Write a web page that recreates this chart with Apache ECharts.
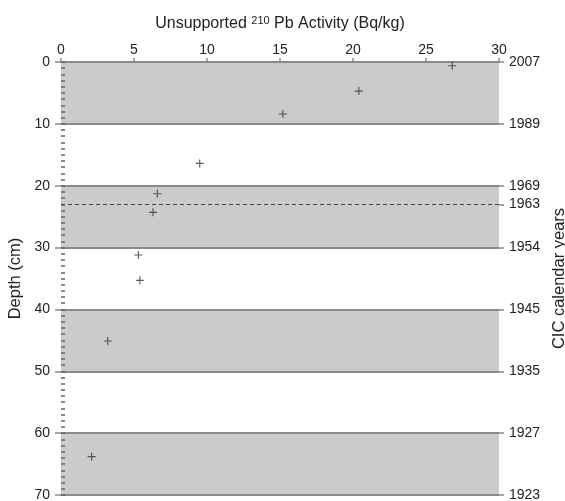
<!DOCTYPE html>
<html>
<head>
<meta charset="utf-8">
<script src="https://cdn.jsdelivr.net/npm/echarts@6/dist/echarts.min.js"></script>
<style>
html, body { margin: 0; padding: 0; background: #fff; }
#main { width: 565px; height: 501px; }
</style>
</head>
<body>
<div id="main"></div>
<script>
// unsupported 210Pb activity vs depth
var activity = [26.8, 20.4, 15.2, 9.5, 6.6, 6.3, 5.3, 5.4, 3.2, 2.1];
var depth = [0.6, 4.7, 8.4, 16.4, 21.3, 24.3, 31.2, 35.3, 45.1, 63.8];

// CIC age model: depth (cm) -> calendar year
var yearDepths = [0, 10, 20, 23, 30, 40, 50, 60, 70];
var yearLabels = ['2007', '1989', '1969', '1963', '1954', '1945', '1935', '1927', '1923'];
var markerDepth = 23; // 1963 peak

var points = [];
for (var i = 0; i < activity.length; i++) {
    points.push([activity[i], depth[i]]);
}

var font = 'Liberation Sans, Arial, sans-serif';
var lineGrey = '#8a8a8a';

var myChart = echarts.init(document.getElementById('main'));
var option = {
    animation : false,
    textStyle : { fontFamily : font },
    grid : { left : 61, right : 66, top : 62, bottom : 6, outerBoundsMode : 'none' },
    xAxis : {
	type : 'value',
	position : 'top',
	min : 0,
	max : 30,
	interval : 5,
	name : 'Unsupported {sup|210} Pb Activity (Bq/kg)',
	nameLocation : 'middle',
	nameGap : 29,
	nameTextStyle : {
	    fontSize : 16,
	    color : '#222',
	    fontFamily : font,
	    rich : {
		sup : { fontSize : 11, color : '#222', fontFamily : font, padding : [ 0, 0, 7, 0 ] }
	    }
	},
	axisLine : { lineStyle : { color : lineGrey, width : 2 } },
	axisTick : { length : 4, lineStyle : { color : lineGrey, width : 1.5 } },
	axisLabel : { fontSize : 14, color : '#222', margin : 5, fontFamily : font },
	splitLine : { show : false }
    },
    yAxis : [ {
	type : 'value',
	position : 'left',
	inverse : true,
	min : 0,
	max : 70,
	interval : 10,
	name : 'Depth (cm)',
	nameLocation : 'middle',
	nameGap : 35,
	nameTextStyle : { fontSize : 16.5, color : '#222', fontFamily : font },
	axisLine : { show : false },
	axisTick : { length : 6, lineStyle : { color : lineGrey, width : 1.5 } },
	axisLabel : { fontSize : 14, color : '#222', margin : 11, fontFamily : font },
	splitLine : { show : true, lineStyle : { color : lineGrey, width : 2 } },
	splitArea : { show : true, areaStyle : { color : [ '#cbcbcb', 'rgba(255,255,255,0)' ] } }
    }, {
	type : 'value',
	position : 'right',
	inverse : true,
	min : 0,
	max : 70,
	name : 'CIC calendar years',
	nameLocation : 'middle',
	nameGap : 52,
	nameTextStyle : { fontSize : 16.5, color : '#222', fontFamily : font },
	axisLine : { show : false },
	axisTick : {
	    length : 5,
	    customValues : yearDepths,
	    lineStyle : { color : lineGrey, width : 1.5 }
	},
	axisLabel : {
	    fontSize : 14,
	    color : '#222',
	    margin : 10,
	    fontFamily : font,
	    customValues : yearDepths,
	    formatter : function(v) {
		var k = yearDepths.indexOf(v);
		return k < 0 ? '' : yearLabels[k];
	    }
	},
	splitLine : { show : false }
    }, {
	// minor depth ticks, drawn inside the plot
	type : 'value',
	position : 'left',
	inverse : true,
	min : 0,
	max : 70,
	interval : 1,
	axisLine : { show : false },
	axisTick : { inside : true, length : 4, lineStyle : { color : '#666', width : 1.5 } },
	axisLabel : { show : false },
	splitLine : { show : false }
    } ],
    series : [ {
	name : 'Unsupported 210Pb',
	type : 'scatter',
	xAxisIndex : 0,
	yAxisIndex : 0,
	symbol : 'path://M0,3h7v1h-7z M3,0h1v7h-1z',
	symbolSize : 8,
	itemStyle : { color : '#333' },
	data : points,
	markLine : {
	    silent : true,
	    symbol : 'none',
	    label : { show : false },
	    lineStyle : { color : '#444', type : [ 4, 3 ], width : 1 },
	    data : [ { yAxis : markerDepth } ]
	}
    } ]
};
myChart.setOption(option);

window.onresize = function() {
    myChart.resize();
};
</script>
</body>
</html>
